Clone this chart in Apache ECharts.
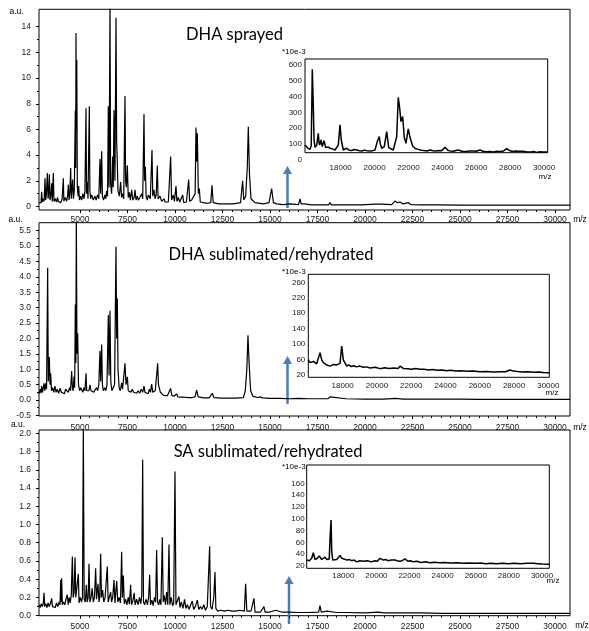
<!DOCTYPE html>
<html>
<head>
<meta charset="utf-8">
<title>MALDI spectra</title>
<script src="https://cdn.jsdelivr.net/npm/echarts@6/dist/echarts.min.js"></script>
<style>
  html, body { margin: 0; padding: 0; background: #fff; }
  #chart { width: 589px; height: 631px; }
</style>
</head>
<body>
<div id="chart"></div>
<script>
// ---------------- data ----------------
const titles = ['DHA sprayed', 'DHA sublimated/rehydrated', 'SA sublimated/rehydrated'];

const mainXTicks = [5000, 7500, 10000, 12500, 15000, 17500, 20000, 22500, 25000, 27500, 30000];
const insetXTicks = [18000, 20000, 22000, 24000, 26000, 28000, 30000];

const yTicks1 = [0, 2, 4, 6, 8, 10, 12, 14];
const yTicks2 = [-0.5, 0, 0.5, 1, 1.5, 2, 2.5, 3, 3.5, 4, 4.5, 5, 5.5];
const yTicks3 = [0, 0.2, 0.4, 0.6, 0.8, 1, 1.2, 1.4, 1.6, 1.8, 2];
const insetYTicks1 = [0, 100, 200, 300, 400, 500, 600];
const insetYTicks2 = [20, 60, 100, 140, 180, 220, 260];
const insetYTicks3 = [20, 40, 60, 80, 100, 120, 140, 160];

// DHA sprayed, full range [m/z, a.u.]
const spec1 = [[2842,0.30],[2900,0.45],[2950,0.3],[2983,1.15],[3010,0.35],[3060,0.6],[3110,0.4],[3158,2.2],[3190,0.5],[3230,0.9],
  [3281,2.6],[3320,0.6],[3360,1.2],[3386,2.5],[3420,0.5],[3470,0.9],[3509,1.8],[3540,0.4],[3597,2.6],[3630,0.4],[3700,0.6],
  [3760,0.35],[3820,0.7],[3860,0.4],[3930,0.5],[3990,0.3],[4060,0.6],[4123,2.2],[4150,0.4],[4220,0.7],[4298,0.4],[4350,0.9],
  [4386,1.7],[4420,0.5],[4470,1.2],[4509,3.0],[4540,0.6],[4580,1.5],[4614,2.1],[4650,0.6],[4700,1.2],[4754,7.5],[4772,3.0],
  [4790,13.5],[4810,6.0],[4830,11.4],[4860,1.5],[4900,0.8],[4930,1.6],[4970,0.5],[5030,0.8],[5088,0.5],[5150,1.0],[5210,0.6],
  [5260,1.2],[5316,7.65],[5345,1.0],[5386,1.9],[5420,0.6],[5491,7.8],[5520,1.2],[5561,0.6],[5620,0.9],[5700,0.5],[5789,0.8],
  [5850,0.5],[5920,0.9],[5990,0.6],[6052,3.7],[6090,1.0],[6140,4.3],[6180,0.8],[6240,0.5],[6316,0.9],[6360,0.6],[6403,1.2],
  [6450,0.8],[6491,7.8],[6530,1.5],[6579,16],[6610,1.8],[6666,1.0],[6719,3.9],[6750,1.5],[6789,7.5],[6840,2.0],[6894,14.7],
  [6930,5.0],[6964,3.4],[7000,1.2],[7070,0.8],[7140,1.9],[7190,0.7],[7245,1.0],[7300,0.6],[7368,8.6],[7400,2.0],[7440,1.5],
  [7491,3.2],[7540,0.7],[7596,1.1],[7650,0.5],[7719,1.3],[7780,0.5],[7850,0.7],[7894,1.3],[7950,0.5],[8010,0.8],[8070,0.5],
  [8150,0.7],[8245,1.0],[8300,0.6],[8368,7.2],[8400,2.0],[8438,3.1],[8480,0.8],[8540,0.5],[8596,0.9],[8648,1.0],[8700,0.6],
  [8789,4.4],[8830,0.8],[8894,1.3],[8950,0.6],[9010,0.9],[9069,3.2],[9110,0.6],[9210,0.8],[9300,0.4],[9420,0.6],[9480,0.35],
  [9560,0.5],[9650,0.35],[9771,3.9],[9820,0.5],[9911,0.9],[9970,0.4],[10052,1.6],[10100,0.4],[10175,0.7],[10250,0.35],
  [10403,0.9],[10460,0.3],[10600,0.35],[10719,2.1],[10770,0.4],[10876,0.5],[10950,0.35],[11060,1.0],[11104,6.15],[11140,3.5],
  [11174,5.7],[11230,1.0],[11280,1.4],[11330,0.35],[11490,0.3],[11700,0.25],[11880,0.3],[11946,1.65],[12010,0.3],[12300,0.2],
  [12700,0.2],[13068,0.2],[13450,0.3],[13559,2.0],[13620,0.5],[13720,0.8],[13805,3.1],[13858,6.2],[13920,2.5],[14000,0.6],
  [14210,0.3],[14650,0.2],[14950,0.3],[15086,1.4],[15180,0.3],[15350,0.2],[15700,0.15],[16050,0.2],[16500,0.15],[16576,0.6],
  [16640,0.2],[16800,0.2],[17200,0.12],[18080,0.12],[18158,0.3],[18230,0.12],[19000,0.12],[19800,0.12],[20526,0.18],
  [20600,0.12],[20880,0.18],[20950,0.12],[21400,0.15],[21580,0.42],[21700,0.3],[21840,0.35],[22000,0.2],[22280,0.3],
  [22400,0.15],[23000,0.12],[24000,0.12],[25000,0.11],[26000,0.11],[27000,0.1],[28000,0.11],[29000,0.1],[30000,0.1],[30789,0.1]];

// DHA sprayed, zoom 16000-30000 (*10e-3)
const inset1 = [[15893,95],[15953,94],[16050,75],[16189,67],[16260,90],[16324,571],[16383,336],[16430,120],[16484,80],
  [16584,94],[16678,168],[16720,110],[16761,94],[16838,126],[16914,84],[17015,122],[17115,78],[17250,82],[17369,74],[17500,70],
  [17664,63],[17780,70],[17858,94],[17959,221],[18035,126],[18153,63],[18354,74],[18500,62],[18650,60],[18800,66],[18944,63],
  [19100,58],[19250,57],[19400,62],[19534,59],[19800,56],[20024,63],[20159,116],[20277,147],[20340,100],[20419,74],[20573,84],
  [20714,179],[20832,78],[20950,66],[21104,63],[21304,147],[21398,394],[21481,326],[21558,242],[21658,274],[21752,143],
  [21853,105],[21988,196],[22089,143],[22248,88],[22400,72],[22578,67],[22750,62],[22900,60],[23100,57],[23269,63],
  [23450,58],[23600,56],[23800,60],[23959,59],[24154,80],[24350,59],[24500,56],[24650,55],[24800,60],[24938,63],[25200,54],
  [25434,53],[25600,57],[25800,56],[26000,55],[26219,63],[26400,55],[26600,52],[26800,54],[27004,50],[27200,55],[27400,53],
  [27600,56],[27794,72],[28000,58],[28183,53],[28350,57],[28500,55],[28773,55],[29000,51],[29200,50],[29400,53],[29564,48],
  [29750,52],[29900,51],[30218,50]];

// DHA sublimated/rehydrated, full range
const spec2 = [[2842,0.2],[2900,0.35],[2950,0.22],[2983,0.45],[3030,0.25],[3106,0.54],[3150,0.3],[3193,0.54],[3240,0.35],
  [3298,4.3],[3330,0.6],[3386,1.4],[3420,0.5],[3456,0.87],[3500,0.3],[3560,0.4],[3620,0.25],[3684,0.45],[3740,0.25],[3800,0.35],
  [3880,0.22],[3948,0.38],[4020,0.25],[4100,0.3],[4180,0.2],[4240,0.35],[4298,0.33],[4380,0.25],[4450,0.4],[4500,0.3],
  [4561,0.94],[4600,0.4],[4640,0.3],[4684,0.76],[4720,0.4],[4754,3.1],[4780,1.2],[4807,5.9],[4840,1.5],[4877,2.17],[4920,0.5],
  [4980,0.3],[5040,0.4],[5088,0.33],[5150,0.25],[5200,0.4],[5260,0.3],[5316,0.87],[5350,0.3],[5420,0.35],[5470,0.3],
  [5526,0.49],[5580,0.3],[5650,0.35],[5720,0.25],[5800,0.3],[5870,0.4],[5930,0.3],[5990,0.5],[6052,1.6],[6090,0.6],[6140,1.8],
  [6180,0.5],[6230,0.3],[6300,0.4],[6360,0.3],[6420,0.5],[6491,2.76],[6530,0.8],[6579,2.9],[6620,0.6],[6680,0.3],[6754,0.27],
  [6820,0.5],[6894,4.98],[6930,2.0],[6964,3.3],[7000,1.0],[7060,0.4],[7120,0.3],[7193,0.56],[7240,0.35],[7300,0.3],
  [7368,1.19],[7420,0.5],[7491,0.75],[7540,0.3],[7600,0.35],[7680,0.25],[7750,0.35],[7820,0.25],[7900,0.3],[7980,0.22],
  [8060,0.3],[8140,0.22],[8220,0.35],[8300,0.25],[8368,0.45],[8420,0.25],[8500,0.3],[8580,0.2],[8650,0.35],[8710,0.25],
  [8771,0.52],[8830,0.25],[8900,0.2],[8960,0.3],[9030,0.25],[9087,1.19],[9130,0.5],[9175,0.55],[9230,0.25],[9300,0.2],
  [9400,0.15],[9500,0.18],[9600,0.14],[9700,0.15],[9771,0.38],[9830,0.15],[9950,0.12],[10087,0.2],[10150,0.1],[10300,0.09],
  [10500,0.09],[10700,0.08],[10900,0.08],[11050,0.1],[11139,0.32],[11220,0.1],[11500,0.07],[11800,0.07],[11900,0.1],
  [11963,0.22],[12050,0.08],[12400,0.06],[12800,0.06],[13200,0.06],[13600,0.08],[13700,0.3],[13780,1.0],[13840,2.1],
  [13900,1.2],[13980,0.3],[14100,0.12],[14350,0.08],[14473,0.1],[14600,0.07],[15000,0.05],[15500,0.05],[16000,0.04],
  [16500,0.05],[17000,0.04],[17500,0.04],[18050,0.04],[18158,0.1],[18260,0.04],[19000,0.04],[20000,0.03],[21000,0.03],
  [21600,0.05],[22000,0.03],[23000,0.03],[24000,0.03],[25000,0.03],[26000,0.02],[27000,0.02],[28000,0.02],[29000,0.02],
  [30000,0.02],[30789,0.02]];

const inset2 = [[15992,59],[16100,52],[16190,48.5],[16290,55],[16383,52],[16480,49],[16576,46],[16675,77.7],[16774,59],
  [16870,52],[16967,48.5],[17100,45],[17259,43],[17350,48],[17450,47],[17550,43],[17650,46],[17842,50],[17942,95],[18035,59],
  [18233,43],[18350,46],[18500,42],[18650,44],[18800,41],[19000,43],[19202,40],[19400,41],[19600,38],[19900,40],[20177,36.4],
  [20450,39],[20700,37],[21000,38],[21245,37],[21345,43],[21537,37],[21800,36],[22000,35],[22250,37],[22512,34.7],[22750,35],
  [23000,33],[23250,34],[23500,32.5],[23800,33],[24070,31.2],[24300,32],[24600,30.5],[24900,31],[25300,29.5],[25600,30],
  [26014,28.6],[26400,29],[26800,28],[27200,28.5],[27500,28.5],[27765,33],[27958,30],[28200,29],[28500,28],[28800,28.5],
  [29200,27],[29450,27.5],[29700,26.5],[30058,26]];

// SA sublimated/rehydrated, full range
const spec3 = [[2842,0.12],[2900,0.09],[2960,0.13],[3020,0.1],[3070,0.14],[3106,0.25],[3140,0.1],[3200,0.13],[3260,0.09],
  [3320,0.14],[3380,0.1],[3440,0.13],[3509,0.19],[3550,0.1],[3620,0.12],[3700,0.09],[3760,0.14],[3830,0.1],[3900,0.15],
  [3950,0.12],[3983,0.39],[4010,0.15],[4035,0.41],[4070,0.12],[4130,0.15],[4200,0.12],[4260,0.18],[4333,0.23],[4380,0.12],
  [4430,0.2],[4480,0.14],[4540,0.22],[4597,0.65],[4640,0.2],[4690,0.25],[4737,0.64],[4780,0.2],[4840,0.18],[4912,0.46],
  [4950,0.14],[5010,0.2],[5080,0.15],[5130,0.2],[5175,2.05],[5220,0.18],[5280,0.15],[5333,0.34],[5380,0.15],[5430,0.2],
  [5474,0.57],[5520,0.15],[5580,0.2],[5640,0.3],[5700,0.15],[5760,0.2],[5824,0.52],[5870,0.18],[5947,0.35],[6000,0.15],
  [6040,0.2],[6087,0.68],[6130,0.2],[6190,0.28],[6250,0.15],[6320,0.2],[6390,0.18],[6438,0.54],[6480,0.15],[6540,0.2],
  [6614,0.26],[6660,0.15],[6720,0.2],[6789,0.39],[6840,0.14],[6930,0.38],[6990,0.15],[7060,0.2],[7130,0.14],[7192,0.70],
  [7230,0.2],[7280,0.44],[7330,0.13],[7400,0.18],[7470,0.12],[7540,0.2],[7600,0.13],[7666,0.34],[7710,0.12],[7780,0.16],
  [7850,0.25],[7900,0.12],[7980,0.18],[8060,0.12],[8130,0.2],[8200,0.13],[8250,0.23],[8298,1.71],[8340,0.15],[8400,0.12],
  [8480,0.18],[8550,0.12],[8610,0.2],[8666,0.45],[8710,0.12],[8780,0.17],[8850,0.11],[8920,0.2],[8980,0.15],[9034,0.72],
  [9080,0.15],[9140,0.12],[9200,0.18],[9260,0.12],[9332,0.86],[9380,0.15],[9440,0.22],[9500,0.12],[9560,0.26],[9620,0.12],
  [9683,0.78],[9730,0.12],[9800,0.2],[9870,0.11],[9930,0.14],[9999,1.58],[10050,0.12],[10120,0.1],[10209,0.21],[10260,0.09],
  [10330,0.15],[10420,0.08],[10500,0.18],[10570,0.08],[10650,0.12],[10740,0.07],[10830,0.12],[10911,0.16],[10980,0.07],
  [11070,0.1],[11174,0.17],[11250,0.07],[11340,0.1],[11420,0.07],[11520,0.12],[11600,0.06],[11700,0.1],[11770,0.08],
  [11823,0.76],[11870,0.1],[11950,0.07],[12040,0.2],[12104,0.48],[12150,0.08],[12250,0.05],[12400,0.06],[12600,0.05],
  [12800,0.06],[13000,0.05],[13200,0.05],[13400,0.06],[13650,0.05],[13717,0.35],[13780,0.05],[14000,0.05],[14100,0.05],
  [14156,0.19],[14210,0.04],[14500,0.04],[14682,0.1],[14740,0.04],[15000,0.04],[15296,0.06],[15600,0.04],[16000,0.04],
  [16500,0.035],[17000,0.035],[17560,0.04],[17631,0.11],[17700,0.04],[18000,0.05],[18500,0.035],[19000,0.035],[20000,0.03],
  [20700,0.04],[21000,0.03],[22000,0.03],[23000,0.03],[24000,0.025],[25000,0.025],[26000,0.025],[27000,0.025],[28000,0.025],
  [29000,0.025],[30000,0.025],[30789,0.025]];

const inset3 = [[15789,30],[15950,29],[16091,33],[16188,42.5],[16291,31],[16420,33],[16550,37],[16695,31],[16800,33],
  [16895,35],[17000,31],[17094,30],[17150,32],[17200,67],[17260,98],[17300,45],[17360,30],[17480,32],[17601,31],[17700,33],
  [17801,38],[17903,33],[18050,32],[18205,30],[18350,31],[18500,29],[18650,30],[18809,27],[19000,29],[19200,28],[19450,29],
  [19700,27],[19900,29],[20050,28],[20217,33],[20416,30],[20550,31],[20700,29],[20900,30],[21123,30],[21250,29],[21400,28],
  [21550,29],[21727,32],[21900,28],[22050,29],[22228,27],[22450,28],[22700,26],[22950,27],[23237,25.6],[23500,26.5],
  [23800,25.5],[24100,26],[24500,25],[24900,25.5],[25248,24.5],[25600,25.2],[26000,24.5],[26300,25],[26600,24],[26900,24.8],
  [27265,24],[27600,24.6],[28000,24],[28350,24.8],[28700,24],[29100,24.6],[29476,24.5],[29750,24],[30000,23.5],[30441,23]];

// ---------------- layout ----------------
const FONT = 'Liberation Sans';
const INK = '#000';
const LABEL = '#1a1a1a';
const ARROW = '#4a7ebb';

// frame = plotting rectangle (px) with its data range; lab = pixel positions of first/last tick labels
const panels = [
  { data: spec1, xt: mainXTicks, yt: yTicks1, fmt: v => String(v), main: true,
    frame: { l: 39, t: 9.3, r: 570, b: 210, xr: [2842, 30789], yr: [-0.273, 15.355] },
    lab: { x0: 80, x1: 555, y0: 26.7, y1: 206.5, xOff: 3.5, xMargin: 5, yMargin: 8 } },
  { data: inset1, xt: insetXTicks, yt: insetYTicks1, fmt: v => String(v), main: false,
    frame: { l: 305, t: 59, r: 547.7, b: 152.7, xr: [15893, 30218], yr: [46, 635.9] },
    lab: { x0: 340.7, x1: 544, y0: 64.7, y1: 160, xOff: 0, xMargin: 3.5, yMargin: 3 } },
  { data: spec2, xt: mainXTicks, yt: yTicks2, fmt: v => v.toFixed(1), main: true,
    frame: { l: 39, t: 222.7, r: 570, b: 416, xr: [2842, 30789], yr: [-0.52, 5.76] },
    lab: { x0: 80, x1: 555, y0: 230.7, y1: 415.4, xOff: 0.6, xMargin: 7, yMargin: 8 } },
  { data: inset2, xt: insetXTicks, yt: insetYTicks2, fmt: v => String(v), main: false,
    frame: { l: 308.3, t: 274.3, r: 549.3, b: 377.3, xr: [15992, 30058], yr: [14, 280.7] },
    lab: { x0: 342.7, x1: 548.3, y0: 282.3, y1: 375, xOff: 0, xMargin: 6.5, yMargin: 3 } },
  { data: spec3, xt: mainXTicks, yt: yTicks3, fmt: v => v.toFixed(1), main: true,
    frame: { l: 39, t: 430, r: 570, b: 615.7, xr: [2842, 30789], yr: [0, 2.036] },
    lab: { x0: 80, x1: 555, y0: 433.3, y1: 615.7, xOff: 0, xMargin: 6, yMargin: 8 } },
  { data: inset3, xt: insetXTicks, yt: insetYTicks3, fmt: v => String(v), main: false,
    frame: { l: 306.7, t: 465, r: 549.3, b: 568.3, xr: [15789, 30441], yr: [16.1, 191] },
    lab: { x0: 343.3, x1: 542, y0: 483.3, y1: 566, xOff: 0, xMargin: 6, yMargin: 2 } }
];

const grids = [], xAxes = [], yAxes = [], series = [];

panels.forEach(p => {
  const f = p.frame, L = p.lab;
  const fs = p.main ? 8.5 : 8;
  // frame grid holding the spectrum
  const g = grids.length;
  grids.push({ left: f.l, top: f.t, width: f.r - f.l, height: f.b - f.t,
    show: true, borderColor: INK, borderWidth: 1, backgroundColor: '#fff' });
  xAxes.push({ gridIndex: g, type: 'value', min: f.xr[0], max: f.xr[1],
    axisLine: { show: false, onZero: false }, axisTick: { show: false }, axisLabel: { show: false }, splitLine: { show: false } });
  yAxes.push({ gridIndex: g, type: 'value', min: f.yr[0], max: f.yr[1],
    axisLine: { show: false, onZero: false }, axisTick: { show: false }, axisLabel: { show: false }, splitLine: { show: false } });
  series.push({ type: 'line', xAxisIndex: xAxes.length - 1, yAxisIndex: yAxes.length - 1,
    data: p.data, symbol: 'none', showSymbol: false, clip: true, silent: true,
    lineStyle: { color: INK, width: p.main ? 1.2 : 1.5 } });

  // tick-label grid spanning first..last tick label
  const gl = grids.length;
  grids.push({ left: L.x0, top: L.y0, width: L.x1 - L.x0, height: L.y1 - L.y0, show: false });
  xAxes.push({ gridIndex: gl, type: 'value', position: 'bottom', offset: L.xOff,
    min: p.xt[0], max: p.xt[p.xt.length - 1], interval: p.xt[1] - p.xt[0],
    axisLine: { show: false, onZero: false }, splitLine: { show: false },
    axisTick: { show: p.main, length: 3, lineStyle: { color: INK } },
    minorTick: { show: p.main, splitNumber: 5, length: 2, lineStyle: { color: INK } },
    axisLabel: { margin: L.xMargin, fontSize: fs, color: LABEL, fontFamily: FONT, formatter: v => String(v) } });
  yAxes.push({ gridIndex: gl, type: 'value', position: 'left', offset: L.x0 - f.l,
    min: p.yt[0], max: p.yt[p.yt.length - 1], interval: p.yt[1] - p.yt[0],
    axisLine: { show: false, onZero: false }, splitLine: { show: false },
    axisTick: { show: p.main, length: 3, lineStyle: { color: INK } },
    minorTick: { show: p.main, splitNumber: 2, length: 2, lineStyle: { color: INK } },
    axisLabel: { margin: L.yMargin, fontSize: fs, color: LABEL, fontFamily: FONT, formatter: p.fmt } });
});

// texts and arrows
const graphic = [];
function txt(x, y, s, size, family, align) {
  graphic.push({ type: 'text', x: x, y: y, silent: true,
    style: { text: s, fill: '#000', font: size + 'px "' + family + '"',
      align: align || 'center', verticalAlign: 'middle', textAlign: align || 'center', textVerticalAlign: 'middle' } });
}
function arrow(x, tip, bottom) {
  graphic.push({ type: 'line', silent: true, shape: { x1: x, y1: bottom, x2: x, y2: tip + 6 },
    style: { stroke: ARROW, lineWidth: 2.5 } });
  graphic.push({ type: 'polygon', silent: true, shape: { points: [[x - 4.5, tip + 8], [x, tip], [x + 4.5, tip + 8]] },
    style: { fill: ARROW } });
}

txt(234.5, 35, titles[0], 16.5, 'Lato');
txt(271, 255, titles[1], 16.5, 'Lato');
txt(268, 452, titles[2], 16.5, 'Lato');

txt(16.5, 11.7, 'a.u.', 8.5, FONT);
txt(15.5, 220, 'a.u.', 8.5, FONT);
txt(18, 425, 'a.u.', 8.5, FONT);
txt(580, 220, 'm/z', 8.5, FONT);
txt(580, 428, 'm/z', 8.5, FONT);
txt(582, 626, 'm/z', 8.5, FONT);
txt(545, 177, 'm/z', 8, FONT);
txt(552, 393, 'm/z', 8, FONT);
txt(553, 581, 'm/z', 8, FONT);
txt(282, 52, '*10e-3', 8, FONT, 'left');
txt(282, 272, '*10e-3', 8, FONT, 'left');
txt(282, 467, '*10e-3', 8, FONT, 'left');

arrow(287.5, 166, 208);
arrow(287.5, 356, 404);
arrow(289, 576, 624);

const chart = echarts.init(document.getElementById('chart'), null, { renderer: 'canvas' });
chart.setOption({
  animation: false,
  backgroundColor: '#fff',
  grid: grids,
  xAxis: xAxes,
  yAxis: yAxes,
  series: series,
  graphic: graphic
});
</script>
</body>
</html>
